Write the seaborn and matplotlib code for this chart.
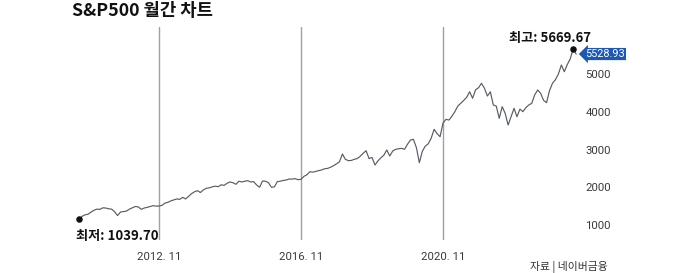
import numpy as np
import pandas as pd
import matplotlib
matplotlib.use("Agg")
import matplotlib.pyplot as plt
import seaborn as sns

# ---- data (monthly S&P500 levels) ----
start_month = "2010-08"
v2010 = [1150, 1230, 1270, 1285, 1340]
v2011 = [1390, 1420, 1415, 1455, 1450, 1430, 1420, 1350, 1250, 1345, 1355, 1370]
v2012 = [1420, 1455, 1490, 1480, 1415, 1450, 1468, 1490, 1512, 1500, 1503, 1520]
v2013 = [1580, 1600, 1640, 1665, 1690, 1680, 1733, 1690, 1760, 1830, 1880, 1909]
v2014 = [1861, 1930, 1972, 1985, 2010, 2030, 2015, 2065, 2050, 2104, 2140, 2120]
v2015 = [2078, 2160, 2140, 2160, 2174, 2140, 2148, 2060, 2000, 2166, 2160, 2121]
v2016 = [2000, 2010, 2148, 2160, 2180, 2192, 2219, 2215, 2230, 2200, 2210, 2290]
v2017 = [2330, 2412, 2400, 2420, 2439, 2460, 2490, 2500, 2530, 2572, 2620, 2677]
v2018 = [2881, 2740, 2704, 2710, 2740, 2760, 2820, 2900, 2968, 2760, 2790, 2589]
v2019 = [2700, 2780, 2850, 2987, 2828, 2960, 3005, 3020, 3031, 3005, 3140, 3251]
v2020 = [3270, 3050, 2650, 2950, 3090, 3150, 3300, 3535, 3420, 3339, 3700, 3800]
v2021 = [3780, 3880, 4002, 4150, 4224, 4300, 4383, 4530, 4357, 4583, 4636, 4754]
v2022 = [4623, 4417, 4530, 4179, 4150, 3826, 4135, 3960, 3649, 3870, 4091, 3869]
v2023 = [4070, 4002, 4110, 4179, 4224, 4450, 4576, 4488, 4300, 4240, 4560, 4754]
v2024 = [4850, 5000, 5238, 5061, 5250, 5400, 5669.67, 5528.93]

marked_months = ["2012-11", "2016-11", "2020-11"]
x_tick_labels = ["2012. 11", "2016. 11", "2020. 11"]
y_ticks = [1000, 2000, 3000, 4000, 5000]
y_tick_labels = ["1000", "2000", "3000", "4000", "5000"]

title_text = "S&P500 월간 차트"
low_text = "최저: 1039.70"
high_text = "최고: 5669.67"
last_text = "5528.93"
source_text = "자료 | 네이버금융"

# ---- build frame ----
values = v2010 + v2011 + v2012 + v2013 + v2014 + v2015 + v2016 + v2017 + \
    v2018 + v2019 + v2020 + v2021 + v2022 + v2023 + v2024
months = pd.period_range(start_month, periods=len(values), freq="M")
df = pd.DataFrame({"idx": np.arange(len(values)), "month": months, "value": values})

sns.set_theme(style="white")
KR = ["Noto Sans CJK KR", "DejaVu Sans"]
NUM = ["Roboto", "Noto Sans CJK KR", "DejaVu Sans"]
plt.rcParams["font.family"] = KR

W, H = 700, 273
fig = plt.figure(figsize=(W / 100, H / 100), dpi=100)
fig.patch.set_facecolor("white")
ax = fig.add_axes([60 / W, (H - 240) / H, 520 / W, 213 / H])
ax.set_facecolor("white")

month_list = list(months)
for m in marked_months:
    ax.axvline(month_list.index(pd.Period(m, freq="M")), color="#a0a0a0", lw=1.0, zorder=0)

sns.lineplot(data=df, x="idx", y="value", ax=ax, color="#565d66", linewidth=0.85, zorder=2)

ax.set_xlim(-6.46, 169.3)
ax.set_ylim(603, 6245)
for s in ax.spines.values():
    s.set_visible(False)
ax.grid(False)
ax.set_xlabel("")
ax.set_ylabel("")

ax.set_xticks([month_list.index(pd.Period(m, freq="M")) for m in marked_months])
ax.set_xticklabels(x_tick_labels, family=NUM, fontsize=8.2, color="#3a3a3a")
ax.tick_params(axis="x", length=0, pad=9)
ax.yaxis.tick_right()
ax.set_yticks(y_ticks)
ax.set_yticklabels(y_tick_labels, family=NUM, fontsize=8.2, color="#3a3a3a")
ax.tick_params(axis="y", length=0, pad=4)

# extreme points
i_low = int(df["value"].idxmin())
i_high = int(df["value"].idxmax())
i_last = len(df) - 1
ax.scatter([df.idx[i_low], df.idx[i_high]], [df.value[i_low], df.value[i_high]],
           s=22, color="#111111", zorder=4, linewidths=0)

ax.annotate(low_text, xy=(df.idx[i_low], df.value[i_low]), xytext=(-2, -12),
            textcoords="offset points", ha="left", va="center", fontsize=9.5,
            fontweight="bold", color="#111111", family=KR)
ax.annotate(high_text, xy=(df.idx[i_high], df.value[i_high]), xytext=(-16.5, 8),
            textcoords="offset points", ha="center", va="center", fontsize=9.5,
            fontweight="bold", color="#111111", family=KR)
ax.annotate(last_text, xy=(df.idx[i_last], df.value[i_last]), xytext=(6.5, 0),
            textcoords="offset points", ha="left", va="center", fontsize=7.8,
            color="white", family=NUM, zorder=5,
            bbox=dict(boxstyle="larrow,pad=0.1", fc="#1d59b3", ec="none"))

fig.text(72 / W, 1 - 10.5 / H, title_text, ha="left", va="center", fontsize=12.8,
         fontweight="bold", color="#111111", family=KR)
fig.text(530 / W, 1 - 267 / H, source_text, ha="left", va="center", fontsize=7.8,
         color="#333333", family=KR)

fig.savefig("out.png", dpi=100, facecolor="white")
